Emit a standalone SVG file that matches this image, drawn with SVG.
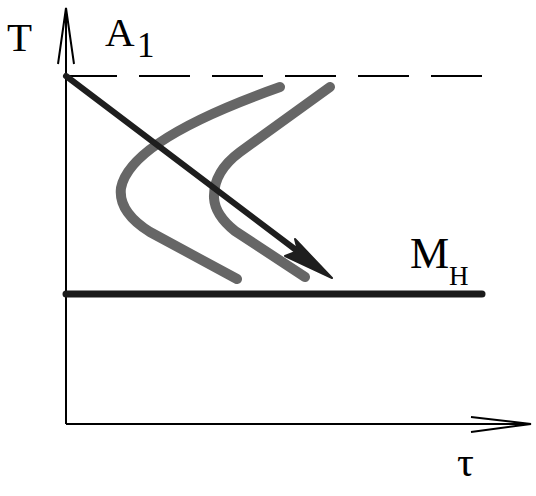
<svg xmlns="http://www.w3.org/2000/svg" width="536" height="496" viewBox="0 0 536 496">
<style>
.ax{stroke:#000;stroke-width:2;fill:none}
.gray{stroke:#666;stroke-width:10;fill:none;stroke-linecap:round;stroke-linejoin:round}
.lbl{font-family:"Liberation Serif","Times New Roman",serif;fill:#000}
</style>
<rect width="536" height="496" fill="#fff"/>
<g id="axes">
<line class="ax" x1="66" y1="424" x2="66" y2="8"/>
<polyline class="ax" points="58,64 66,8 74,64" stroke-width="1.6"/>
<line class="ax" x1="66" y1="424" x2="530" y2="424"/>
<polyline class="ax" points="471,417 531,424 471,432" stroke-width="1.6"/>
</g>
<g id="A1-line">
<line x1="66" y1="76" x2="482" y2="76" stroke="#000" stroke-width="2" stroke-dasharray="51 22"/>
</g>
<g id="curve-1">
<path class="gray" d="M280,87 Q130,140 121,188 Q118,212 150,232 L237,279"/>
</g>
<g id="curve-2">
<path class="gray" d="M330,87 L240,152 Q213,172 214,198 Q215,215 235,231 L305,277"/>
</g>
<g id="MH-line">
<line x1="66" y1="294" x2="482" y2="294" stroke="#1a1a1a" stroke-width="7" stroke-linecap="round"/>
</g>
<g id="connectors">
<line x1="66" y1="76" x2="300" y2="253" stroke="#1e1e1e" stroke-width="6" stroke-linecap="round"/>
<polygon points="332,278 295,239 298,251 285,256" fill="#1e1e1e" stroke="#1e1e1e" stroke-width="2" stroke-linejoin="round"/>
</g>
<g id="labels">
<text class="lbl" x="7" y="51" font-size="41">T</text>
<text class="lbl" x="105" y="46" font-size="41">A</text>
<text class="lbl" x="137" y="57" font-size="35">1</text>
<text class="lbl" x="410" y="268" font-size="44">M</text>
<text class="lbl" x="449" y="285" font-size="27">H</text>
<text class="lbl" x="457" y="476" font-size="42">τ</text>
</g>
</svg>
